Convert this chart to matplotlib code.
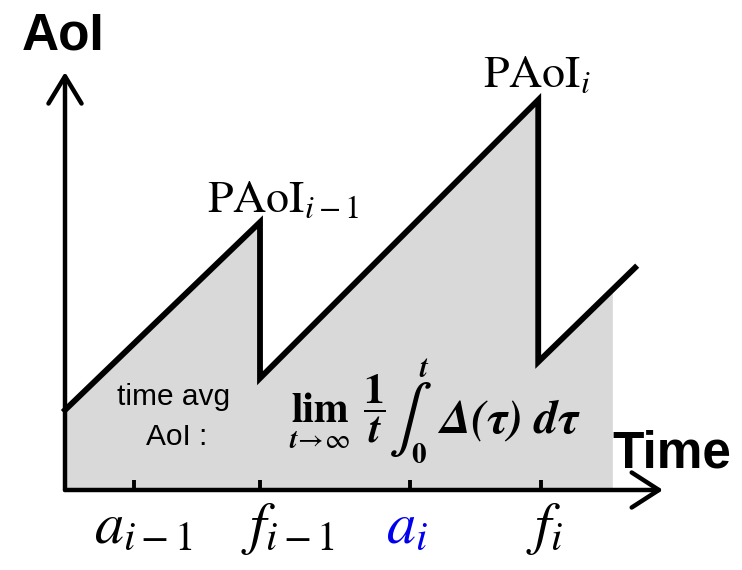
import numpy as np
import matplotlib
matplotlib.use("Agg")
import matplotlib.pyplot as plt

plt.rcParams['mathtext.fontset'] = 'stix'

# sawtooth age-of-information curve (time, AoI)
aoi_t = [0.0, 3.0, 3.0, 7.28, 7.28, 8.77]
aoi_v = [1.23, 4.12, 1.72, 6.0, 1.97, 3.42]
fill_end = 8.42

tick_pos = [1.06, 3.0, 5.31, 7.32]
tick_labels = [r'$a_{i-1}$', r'$f_{i-1}$', r'$a_i$', r'$f_i$']
tick_colors = ['black', 'black', '#0000ee', 'black']
label_shift = [0.14, 0.43, -0.05, 0.06]

peak_labels = [r'$\mathrm{PAoI}_{i-1}$', r'$\mathrm{PAoI}_i$']


def px(x, y):
    # pixel position in the 742x570 picture -> data coords
    return (x - 65) / 65.0, (490 - y) / 65.0


fig = plt.figure(figsize=(7.42, 5.70), dpi=100)
ax = fig.add_axes([0, 0, 1, 1])
ax.set_xlim(-1.0, 10.415)
ax.set_ylim(-1.2308, 7.538)
ax.axis('off')

# gray area under the curve up to fill_end
t_fill = aoi_t[:5] + [fill_end]
v_fill = aoi_v[:5] + [np.interp(fill_end, aoi_t[4:], aoi_v[4:])]
ax.fill_between(t_fill, 0, v_fill, color='#d9d9d9', lw=0, zorder=1)

ax.plot(aoi_t, aoi_v, color='black', lw=4.2, solid_joinstyle='miter', zorder=3)

# axes arrows
ax.annotate('', xy=(9.2, 0), xytext=(0, 0),
            arrowprops=dict(arrowstyle='->,head_length=1.4,head_width=0.9',
                            lw=3.2, color='black', mutation_scale=14,
                            shrinkA=0, shrinkB=0), zorder=4)
ax.annotate('', xy=(0, 6.43), xytext=(0, 0),
            arrowprops=dict(arrowstyle='->,head_length=1.4,head_width=0.85',
                            lw=3.2, color='black', mutation_scale=14,
                            shrinkA=0, shrinkB=0), zorder=4)

ax.vlines(tick_pos, 0, 0.16, color='black', lw=2.8, zorder=4)
for p, s, lab, c in zip(tick_pos, label_shift, tick_labels, tick_colors):
    ax.text(p + s, px(0, 543)[1], lab, ha='center', va='baseline', fontsize=42, color=c)

ax.text(*px(207, 212), peak_labels[0], ha='left', va='baseline', fontsize=33)
ax.text(*px(483, 87), peak_labels[1], ha='left', va='baseline', fontsize=33)

ax.text(*px(22, 50), 'AoI', ha='left', va='baseline',
        fontsize=37, fontweight='bold', family='Liberation Sans')
ax.text(*px(612, 468), 'Time', ha='left', va='baseline',
        fontsize=37, fontweight='bold', family='Liberation Sans')

ax.text(*px(174, 405), 'time avg', ha='center', va='baseline', fontsize=21.5,
        family='Liberation Sans')
ax.text(*px(177, 445), 'AoI :', ha='center', va='baseline', fontsize=21.5,
        family='Liberation Sans')

# time-average formula, built from pieces
ax.text(*px(320, 422), 'lim', ha='center', va='baseline', fontsize=30,
        family='STIXGeneral', fontweight='bold')
ax.text(*px(319, 448), r'$\boldsymbol{t}\!\rightarrow\!\infty$', ha='center',
        va='baseline', fontsize=20)
ax.text(*px(374, 409), r'$\dfrac{\mathbf{1}}{\boldsymbol{t}}$', ha='center',
        va='center', fontsize=30)
ax.text(*px(404, 420), '\u222b', ha='center', va='center', fontsize=47,
        family='STIXGeneral')
ax.text(*px(419, 377), 't', ha='left', va='baseline', fontsize=21,
        family='STIXGeneral', fontweight='bold', fontstyle='italic')
ax.text(*px(411, 463), '0', ha='left', va='baseline', fontsize=21,
        family='STIXGeneral', fontweight='bold')
ax.text(*px(440, 432), '\u0394(\u03c4) d\u03c4', ha='left', va='baseline',
        fontsize=34, family='STIXGeneral', fontweight='bold', fontstyle='italic')

fig.savefig('out.png', dpi=100)
